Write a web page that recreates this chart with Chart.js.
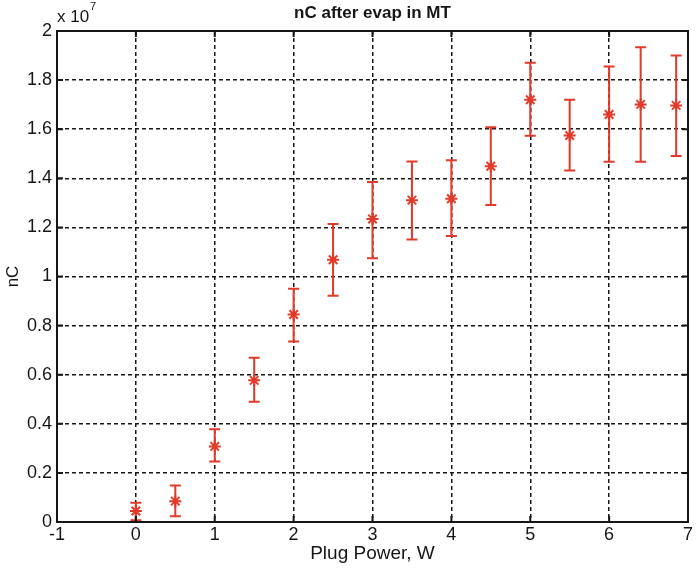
<!DOCTYPE html>
<html lang="en">
  <head>
    <meta charset="UTF-8" />
    <title>nC after evap in MT</title>
    <style>
      html, body {
        margin: 0;
        padding: 0;
        background: #fff;
      }
      #wrap {
        width: 696px;
        height: 571px;
        position: relative;
      }
    </style>
  </head>
  <body>
    <div id="wrap"><canvas id="nc"></canvas></div>
    <script src="https://cdn.jsdelivr.net/npm/chart.js"></script>
    <script>
      // plug power (W)
      const power = [0, 0.5, 1, 1.5, 2, 2.5, 3, 3.5, 4, 4.5, 5, 5.5, 6, 6.4, 6.85];
      // nC values and error bar ends
      const nC = [0.045e7, 0.085e7, 0.308e7, 0.577e7, 0.845e7, 1.068e7, 1.234e7, 1.311e7,
        1.317e7, 1.449e7, 1.72e7, 1.574e7, 1.66e7, 1.701e7, 1.697e7];
      const nCHigh = [0.078e7, 0.149e7, 0.378e7, 0.669e7, 0.95e7, 1.214e7, 1.385e7, 1.468e7,
        1.474e7, 1.608e7, 1.871e7, 1.72e7, 1.855e7, 1.934e7, 1.9e7];
      const nCLow = [0.007e7, 0.023e7, 0.246e7, 0.49e7, 0.735e7, 0.922e7, 1.074e7, 1.151e7,
        1.165e7, 1.291e7, 1.573e7, 1.432e7, 1.467e7, 1.467e7, 1.491e7];

      const xTicks = [-1, 0, 1, 2, 3, 4, 5, 6, 7];
      const yTicks = [0, 0.2, 0.4, 0.6, 0.8, 1, 1.2, 1.4, 1.6, 1.8, 2];
      const yExp = 7;

      const red = "#e23a28";
      const ink = "#161616";
      const font = "'Liberation Sans', Arial, sans-serif";

      // error bars, box, inner ticks, title and exponent
      const matlabLook = {
        id: "matlabLook",
        beforeDatasetsDraw(chart) {
          const c = chart.ctx;
          const xs = chart.scales.x;
          const ys = chart.scales.y;
          c.save();
          c.strokeStyle = red;
          c.lineWidth = 2;
          power.forEach((p, i) => {
            const px = xs.getPixelForValue(p);
            const top = ys.getPixelForValue(nCHigh[i]);
            const bot = ys.getPixelForValue(nCLow[i]);
            c.beginPath();
            c.moveTo(px, top);
            c.lineTo(px, bot);
            c.moveTo(px - 5.5, top);
            c.lineTo(px + 5.5, top);
            c.moveTo(px - 5.5, bot);
            c.lineTo(px + 5.5, bot);
            c.stroke();
          });
          c.restore();
        },
        afterDraw(chart) {
          const c = chart.ctx;
          const a = chart.chartArea;
          const xs = chart.scales.x;
          const ys = chart.scales.y;
          c.save();
          c.strokeStyle = ink;
          c.lineWidth = 2;
          c.strokeRect(a.left, a.top, a.right - a.left, a.bottom - a.top);
          c.beginPath();
          xTicks.forEach((t) => {
            const px = xs.getPixelForValue(t);
            c.moveTo(px, a.bottom);
            c.lineTo(px, a.bottom - 6);
            c.moveTo(px, a.top);
            c.lineTo(px, a.top + 6);
          });
          yTicks.forEach((t) => {
            const py = ys.getPixelForValue(t * Math.pow(10, yExp));
            c.moveTo(a.left, py);
            c.lineTo(a.left + 6, py);
            c.moveTo(a.right, py);
            c.lineTo(a.right - 6, py);
          });
          c.stroke();

          c.fillStyle = ink;
          c.textBaseline = "alphabetic";
          c.textAlign = "center";
          c.font = "bold 17px " + font;
          c.fillText("nC after evap in MT", (a.left + a.right) / 2, 18);
          c.textAlign = "left";
          c.font = "17px " + font;
          c.fillText("x 10", a.left, 22);
          c.font = "11px " + font;
          c.fillText(String(yExp), a.left + 33, 10);
          c.restore();
        },
      };

      const ctx = document.getElementById("nc").getContext("2d");
      new Chart(ctx, {
        type: "scatter",
        data: {
          datasets: [
            {
              label: "nC",
              data: power.map((p, i) => ({ x: p, y: nC[i] })),
              pointStyle: "star",
              pointRadius: 6,
              pointBorderWidth: 2,
              borderColor: red,
              backgroundColor: red,
              showLine: false,
            },
          ],
        },
        plugins: [matlabLook],
        options: {
          responsive: true,
          maintainAspectRatio: false,
          animation: false,
          layout: { padding: { top: 31, right: 4, left: 0, bottom: 0 } },
          plugins: {
            legend: { display: false },
            tooltip: { enabled: false },
          },
          scales: {
            x: {
              type: "linear",
              min: -1,
              max: 7,
              afterBuildTicks: (s) => {
                s.ticks = xTicks.map((v) => ({ value: v }));
              },
              afterFit: (s) => {
                s.height = 49;
                s.paddingLeft = 0;
                s.paddingRight = 0;
              },
              ticks: {
                color: ink,
                padding: 2,
                maxRotation: 0,
                font: { family: font, size: 18 },
                callback: (v) => String(v),
              },
              grid: {
                color: ink,
                lineWidth: 1.5,
                drawTicks: false,
              },
              border: { display: true, color: ink, width: 2, dash: [4, 3] },
              title: {
                display: true,
                text: "Plug Power, W",
                color: ink,
                font: { family: font, size: 19 },
                padding: { top: 0, bottom: 6 },
              },
            },
            y: {
              type: "linear",
              min: 0,
              max: 2e7,
              afterBuildTicks: (s) => {
                s.ticks = yTicks.map((v) => ({ value: v * Math.pow(10, yExp) }));
              },
              afterFit: (s) => {
                s.width = 57;
                s.paddingTop = 0;
                s.paddingBottom = 0;
              },
              ticks: {
                color: ink,
                padding: 5,
                font: { family: font, size: 18 },
                callback: (v) => String(Math.round(v / Math.pow(10, yExp - 1)) / 10),
              },
              grid: {
                color: ink,
                lineWidth: 1.5,
                drawTicks: false,
              },
              border: { display: true, color: ink, width: 2, dash: [4, 3] },
              title: {
                display: true,
                text: "nC",
                color: ink,
                font: { family: font, size: 17 },
                padding: { top: 3, bottom: 0 },
              },
            },
          },
        },
      });
    </script>
  </body>
</html>
